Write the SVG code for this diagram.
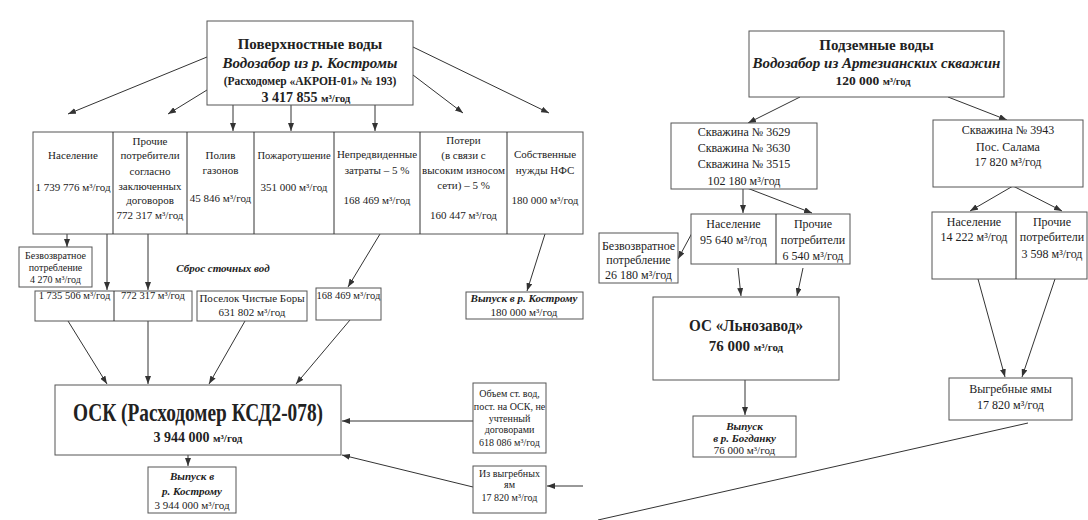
<svg xmlns="http://www.w3.org/2000/svg" width="1088" height="520" viewBox="0 0 1088 520">
<style>
.box{fill:#fff;stroke:#555;stroke-width:1}
.ln{stroke:#333;stroke-width:1;fill:none}
.a{marker-end:url(#ah)}
text{font-family:"Liberation Serif","Times New Roman",serif;fill:#222;text-anchor:middle;font-size:11px}
.b{font-weight:bold}
.bi{font-weight:bold;font-style:italic}
.s10{font-size:10px}
.s12{font-size:12px}
.h15{font-size:15px}
</style>
<defs>
<marker id="ah" markerUnits="userSpaceOnUse" markerWidth="8" markerHeight="6" refX="8" refY="3" orient="auto">
<path d="M0,0 L8,3 L0,6 z" fill="#333"/>
</marker>
</defs>
<rect width="1088" height="520" fill="#fff"/>

<g id="connectors">
<line class="ln a" x1="207" y1="57" x2="68" y2="114"/>
<line class="ln a" x1="207" y1="90" x2="168" y2="114"/>
<line class="ln a" x1="233" y1="105" x2="233" y2="131"/>
<line class="ln a" x1="291" y1="105" x2="291" y2="131"/>
<line class="ln a" x1="375" y1="105" x2="375" y2="131"/>
<line class="ln a" x1="413" y1="75" x2="463" y2="113"/>
<line class="ln a" x1="413" y1="47" x2="549" y2="113"/>
<line class="ln a" x1="67" y1="234" x2="67" y2="247"/>
<line class="ln a" x1="107" y1="234" x2="107" y2="290"/>
<line class="ln a" x1="148" y1="234" x2="148" y2="290"/>
<line class="ln a" x1="380" y1="234" x2="348" y2="287"/>
<line class="ln a" x1="545" y1="234" x2="527" y2="291"/>
<line class="ln a" x1="68" y1="321" x2="107" y2="384"/>
<line class="ln a" x1="148" y1="321" x2="148" y2="384"/>
<line class="ln a" x1="245" y1="321" x2="209" y2="384"/>
<line class="ln a" x1="350" y1="320" x2="296" y2="384"/>
<line class="ln a" x1="188" y1="455" x2="188" y2="466"/>
<line class="ln a" x1="473" y1="421" x2="342" y2="421"/>
<line class="ln a" x1="473" y1="487" x2="342" y2="455"/>
<line class="ln a" x1="583" y1="486" x2="547" y2="486"/>
<line class="ln a" x1="800" y1="97" x2="748" y2="123"/>
<line class="ln a" x1="948" y1="97" x2="1007" y2="120"/>
<line class="ln a" x1="743" y1="189" x2="743" y2="213"/>
<line class="ln a" x1="747" y1="188" x2="812" y2="213"/>
<line class="ln a" x1="692" y1="233" x2="678" y2="259"/>
<line class="ln a" x1="738" y1="268" x2="741" y2="296"/>
<line class="ln a" x1="803" y1="268" x2="797" y2="296"/>
<line class="ln a" x1="745" y1="380" x2="745" y2="415"/>
<line class="ln a" x1="1013" y1="186" x2="970" y2="211"/>
<line class="ln a" x1="1013" y1="186" x2="1062" y2="211"/>
<line class="ln a" x1="978" y1="279" x2="1005" y2="377"/>
<line class="ln a" x1="1055" y1="279" x2="1022" y2="377"/>
<line class="ln" x1="1028" y1="423" x2="598" y2="520"/>
</g>

<g id="surface-water">
<rect class="box" x="207" y="21" width="206" height="84"/>
<text class="b h15" x="310" y="49">Поверхностные воды</text>
<text class="bi h15" x="310" y="68">Водозабор из р. Костромы</text>
<text class="b" x="310" y="85" style="font-size:11.5px">(Расходомер «АКРОН-01» № 193)</text>
<text class="b" x="306" y="102" style="font-size:14px">3 417 855 <tspan style="font-size:11px">м³/год</tspan></text>
</g>

<g id="consumers-row">
<rect class="box" x="33" y="132" width="550" height="102"/>
<line class="ln" x1="113" y1="132" x2="113" y2="234"/>
<line class="ln" x1="187" y1="132" x2="187" y2="234"/>
<line class="ln" x1="254" y1="132" x2="254" y2="234"/>
<line class="ln" x1="334" y1="132" x2="334" y2="234"/>
<line class="ln" x1="420" y1="132" x2="420" y2="234"/>
<line class="ln" x1="507" y1="132" x2="507" y2="234"/>
</g>
<g id="naselenie">
<text x="73" y="159">Население</text>
<text x="73" y="191">1 739 776 м³/год</text>
</g>
<g id="prochie">
<text x="150" y="145">Прочие</text>
<text x="150" y="159">потребители</text>
<text x="150" y="175">согласно</text>
<text x="150" y="190">заключенных</text>
<text x="150" y="204">договоров</text>
<text x="150" y="219">772 317 м³/год</text>
</g>
<g id="poliv">
<text x="220.5" y="159">Полив</text>
<text x="220.5" y="174">газонов</text>
<text x="220.5" y="202">45 846 м³/год</text>
</g>
<g id="pozhar">
<text x="294" y="159" style="font-size:10.5px">Пожаротушение</text>
<text x="294" y="191">351 000 м³/год</text>
</g>
<g id="nepredv">
<text x="377" y="158">Непредвиденные</text>
<text x="377" y="174">затраты – 5 %</text>
<text x="377" y="204">168 469 м³/год</text>
</g>
<g id="poteri">
<text x="463.5" y="144">Потери</text>
<text x="463.5" y="159">(в связи с</text>
<text x="463.5" y="174">высоким износом</text>
<text x="463.5" y="189">сети) – 5 %</text>
<text x="463.5" y="219">160 447 м³/год</text>
</g>
<g id="sobstv">
<text x="545" y="158">Собственные</text>
<text x="545" y="174">нужды НФС</text>
<text x="545" y="204">180 000 м³/год</text>
</g>

<g id="bezvozvr-left">
<rect class="box" x="19" y="247" width="73" height="40"/>
<text class="s10" x="55.5" y="259">Безвозвратное</text>
<text class="s10" x="55.5" y="271">потребление</text>
<text class="s10" x="55.5" y="283">4 270 м³/год</text>
</g>

<g id="sbros-label">
<text class="bi" x="223" y="272">Сброс сточных вод</text>
</g>

<g id="sbros-1">
<rect class="box" x="35" y="291" width="157" height="30"/>
<line class="ln" x1="114" y1="291" x2="114" y2="321"/>
<text x="74.5" y="299" style="font-size:10.5px">1 735 506 м³/год</text>
<text x="153" y="299" style="font-size:10.5px">772 317 м³/год</text>
</g>
<g id="chistye-bory">
<rect class="box" x="197" y="291" width="110" height="30"/>
<text x="252" y="302">Поселок Чистые Боры</text>
<text x="252" y="316">631 802 м³/год</text>
</g>
<g id="sbros-168">
<rect class="box" x="316" y="288" width="65" height="32"/>
<text x="348.5" y="299" style="font-size:10.5px">168 469 м³/год</text>
</g>
<g id="vypusk-180">
<rect class="box" x="466" y="292" width="117" height="27"/>
<text class="bi" x="524" y="302">Выпуск в р. Кострому</text>
<text x="524" y="316">180 000 м³/год</text>
</g>

<g id="osk">
<rect class="box" x="55" y="385" width="286" height="70"/>
<text class="b" x="198" y="421" style="font-size:26px" textLength="250" lengthAdjust="spacingAndGlyphs">ОСК (Расходомер КСД2-078)</text>
<text class="b" x="198" y="442" style="font-size:14px">3 944 000 <tspan style="font-size:11px">м³/год</tspan></text>
</g>
<g id="vypusk-osk">
<rect class="box" x="148" y="467" width="88" height="46"/>
<text class="bi" x="192" y="480">Выпуск в</text>
<text class="bi" x="192" y="495">р. Кострому</text>
<text x="192" y="509">3 944 000 м³/год</text>
</g>
<g id="obem">
<rect class="box" x="473" y="383" width="73" height="70"/>
<text class="s10" x="509.5" y="397">Объем ст. вод,</text>
<text class="s10" x="509.5" y="410">пост. на ОСК, не</text>
<text class="s10" x="509.5" y="422">учтенный</text>
<text class="s10" x="509.5" y="433">договорами</text>
<text class="s10" x="509.5" y="446">618 086 м³/год</text>
</g>
<g id="iz-vygreb">
<rect class="box" x="473" y="466" width="73" height="47"/>
<text class="s10" x="509.5" y="477">Из выгребных</text>
<text class="s10" x="509.5" y="488">ям</text>
<text class="s10" x="509.5" y="501">17 820 м³/год</text>
</g>

<g id="underground-water">
<rect class="box" x="749" y="31" width="255" height="66"/>
<text class="b h15" x="876.5" y="50">Подземные воды</text>
<text class="bi h15" x="876.5" y="68">Водозабор из Артезианских скважин</text>
<text class="b" x="873" y="85" style="font-size:13.5px">120 000 <tspan style="font-size:10.5px">м³/год</tspan></text>
</g>
<g id="skv-3629">
<rect class="box" x="671" y="123" width="146" height="66"/>
<text class="s12" x="744" y="136">Скважина № 3629</text>
<text class="s12" x="744" y="152">Скважина № 3630</text>
<text class="s12" x="744" y="168">Скважина № 3515</text>
<text class="s12" x="744" y="185">102 180  м³/год</text>
</g>
<g id="nas-proch-1">
<rect class="box" x="691" y="214" width="159" height="50"/>
<line class="ln" x1="776" y1="214" x2="776" y2="264"/>
<text class="s12" x="733.5" y="228">Население</text>
<text class="s12" x="733.5" y="244">95 640 м³/год</text>
<text class="s12" x="813" y="228">Прочие</text>
<text class="s12" x="813" y="244">потребители</text>
<text class="s12" x="813" y="260">6 540 м³/год</text>
</g>
<g id="bezvozvr-right">
<rect class="box" x="599" y="233" width="79" height="50"/>
<text class="s12" x="638.5" y="250">Безвозвратное</text>
<text class="s12" x="638.5" y="264">потребление</text>
<text class="s12" x="638.5" y="279">26 180 м³/год</text>
</g>
<g id="os-lnozavod">
<rect class="box" x="653" y="297" width="186" height="83"/>
<text class="b" x="746" y="331" style="font-size:17px" textLength="114" lengthAdjust="spacingAndGlyphs">ОС «Льнозавод»</text>
<text class="b" x="746" y="351" style="font-size:15px">76 000 <tspan style="font-size:11px">м³/год</tspan></text>
</g>
<g id="vypusk-bogdanka">
<rect class="box" x="693" y="416" width="103" height="41"/>
<text class="bi" x="744.5" y="430">Выпуск</text>
<text class="bi" x="744.5" y="442">в р. Богданку</text>
<text x="744.5" y="454">76 000 м³/год</text>
</g>
<g id="skv-3943">
<rect class="box" x="933" y="120" width="150" height="67"/>
<text class="s12" x="1008" y="134">Скважина № 3943</text>
<text class="s12" x="1008" y="151">Пос. Салама</text>
<text class="s12" x="1008" y="166">17 820  м³/год</text>
</g>
<g id="nas-proch-2">
<rect class="box" x="932" y="212" width="155" height="67"/>
<line class="ln" x1="1016" y1="212" x2="1016" y2="279"/>
<text class="s12" x="974" y="226">Население</text>
<text class="s12" x="974" y="241">14 222 м³/год</text>
<text class="s12" x="1052" y="226">Прочие</text>
<text class="s12" x="1052" y="241">потребители</text>
<text class="s12" x="1052" y="258">3 598 м³/год</text>
</g>
<g id="vygrebnye-yamy">
<rect class="box" x="949" y="378" width="123" height="42"/>
<text class="s12" x="1010.5" y="393">Выгребные ямы</text>
<text class="s12" x="1010.5" y="409">17 820 м³/год</text>
</g>
</svg>
